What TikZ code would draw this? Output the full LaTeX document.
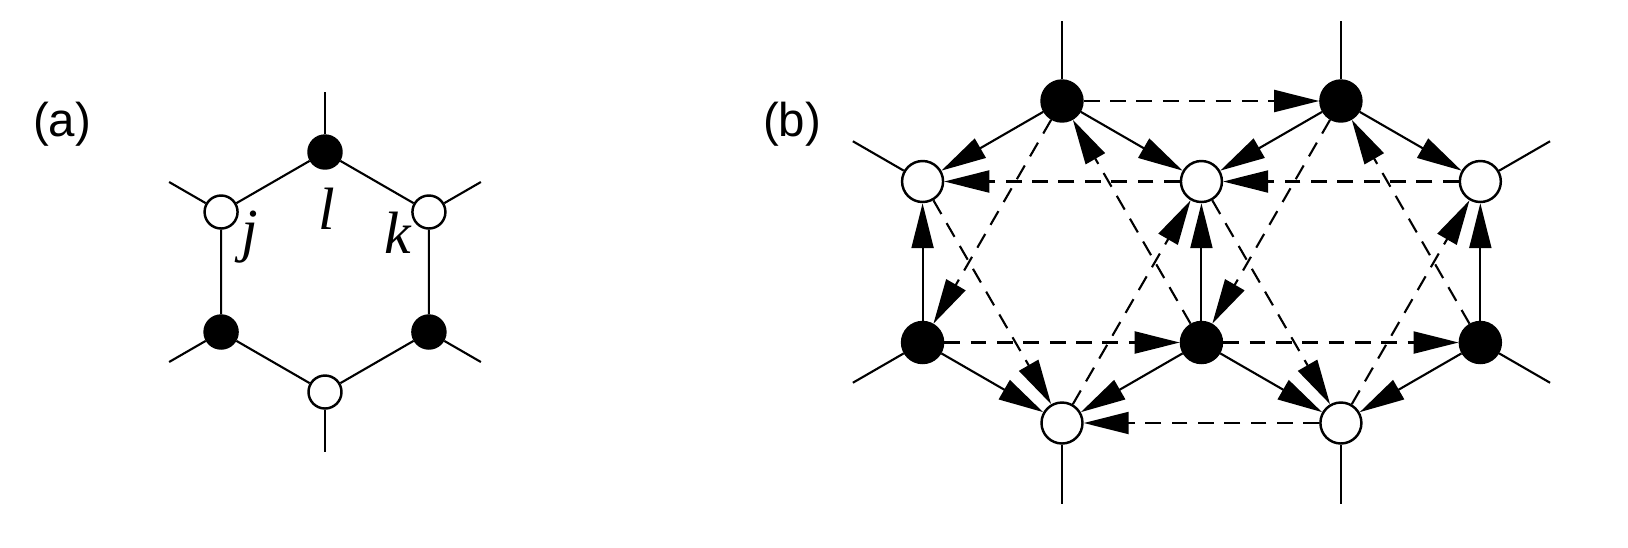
\documentclass[tikz,border=0pt]{standalone}
\usepackage{fontspec}
\setmainfont{Liberation Sans}
\newfontfamily\tmfont{Liberation Serif}
\usetikzlibrary{arrows.meta,calc}

\begin{document}
\begin{tikzpicture}[
  asite/.style={circle, draw, line width=0.7pt, fill=black, inner sep=0pt, minimum size=3.3mm},
  bsite/.style={asite, fill=white},
  abig/.style={asite, minimum size=4.1mm},
  bbig/.style={bsite, minimum size=4.1mm},
  bond/.style={line width=0.6pt},
  bondarr/.style={bond, -{Triangle[length=4.5mm, width=2.2mm]}},
  nnarr/.style={bondarr, dash pattern=on 4.5pt off 3pt},
  lbl/.style={font=\fontsize{17}{20}\selectfont\tmfont\itshape, inner sep=0pt, anchor=base},
  panel/.style={font=\fontsize{13.5}{16}\selectfont, inner sep=0pt}]
  \useasboundingbox (0,0) rectangle (16.28,5.47);

  % (a) one hexagon
  \node[panel] (taga) at (0.62,4.23) {(a)};
  \coordinate (ha) at (3.25,2.75);
  \node[asite] (a1) at ($(ha)+(90:1.2)$) {};
  \node[bsite] (a2) at ($(ha)+(150:1.2)$) {};
  \node[asite] (a3) at ($(ha)+(210:1.2)$) {};
  \node[bsite] (a4) at ($(ha)+(270:1.2)$) {};
  \node[asite] (a5) at ($(ha)+(330:1.2)$) {};
  \node[bsite] (a6) at ($(ha)+(30:1.2)$) {};
  \coordinate (ea1) at ($(a1)+(90:0.6)$);
  \coordinate (ea2) at ($(a2)+(150:0.6)$);
  \coordinate (ea3) at ($(a3)+(210:0.6)$);
  \coordinate (ea4) at ($(a4)+(270:0.6)$);
  \coordinate (ea5) at ($(a5)+(330:0.6)$);
  \coordinate (ea6) at ($(a6)+(30:0.6)$);
  \draw[bond] (a1) -- (a2) -- (a3) -- (a4) -- (a5) -- (a6) -- (a1);
  \draw[bond] (a1) -- (ea1);
  \draw[bond] (a2) -- (ea2);
  \draw[bond] (a3) -- (ea3);
  \draw[bond] (a4) -- (ea4);
  \draw[bond] (a5) -- (ea5);
  \draw[bond] (a6) -- (ea6);
  \node[lbl] (lj) at (2.50,2.97) {j};
  \node[lbl] (ll) at (3.27,3.18) {l};
  \node[lbl] (lk) at (3.98,2.94) {k};

  % (b) two hexagons with bond and next-neighbour arrows
  \node[panel] (tagb) at (7.92,4.23) {(b)};
  \coordinate (hl) at (10.62,2.85);
  \coordinate (hr) at (13.409,2.85);
  \node[abig] (t1) at ($(hl)+(90:1.61)$) {};
  \node[abig] (t2) at ($(hr)+(90:1.61)$) {};
  \node[bbig] (u1) at ($(hl)+(150:1.61)$) {};
  \node[bbig] (u2) at ($(hl)+(30:1.61)$) {};
  \node[bbig] (u3) at ($(hr)+(30:1.61)$) {};
  \node[abig] (d1) at ($(hl)+(210:1.61)$) {};
  \node[abig] (d2) at ($(hl)+(330:1.61)$) {};
  \node[abig] (d3) at ($(hr)+(330:1.61)$) {};
  \node[bbig] (b1) at ($(hl)+(270:1.61)$) {};
  \node[bbig] (b2) at ($(hr)+(270:1.61)$) {};
  \coordinate (et1) at ($(t1)+(90:0.805)$);
  \coordinate (et2) at ($(t2)+(90:0.805)$);
  \coordinate (eu1) at ($(u1)+(150:0.805)$);
  \coordinate (eu3) at ($(u3)+(30:0.805)$);
  \coordinate (ed1) at ($(d1)+(210:0.805)$);
  \coordinate (ed3) at ($(d3)+(330:0.805)$);
  \coordinate (eb1) at ($(b1)+(270:0.805)$);
  \coordinate (eb2) at ($(b2)+(270:0.805)$);
  \draw[bond] (t1) -- (et1);
  \draw[bond] (t2) -- (et2);
  \draw[bond] (u1) -- (eu1);
  \draw[bond] (u3) -- (eu3);
  \draw[bond] (d1) -- (ed1);
  \draw[bond] (d3) -- (ed3);
  \draw[bond] (b1) -- (eb1);
  \draw[bond] (b2) -- (eb2);
  % nearest neighbours
  \draw[bondarr] (t1) -- (u1);
  \draw[bondarr] (t1) -- (u2);
  \draw[bondarr] (d1) -- (u1);
  \draw[bondarr] (d1) -- (b1);
  \draw[bondarr] (d2) -- (b1);
  \draw[bondarr] (d2) -- (u2);
  \draw[bondarr] (t2) -- (u2);
  \draw[bondarr] (t2) -- (u3);
  \draw[bondarr] (d3) -- (u3);
  \draw[bondarr] (d2) -- (b2);
  \draw[bondarr] (d3) -- (b2);
  % next-nearest neighbours
  \draw[nnarr] (t1) -- (t2);
  \draw[nnarr] (u2) -- (u1);
  \draw[nnarr] (u3) -- (u2);
  \draw[nnarr] (d1) -- (d2);
  \draw[nnarr] (d2) -- (d3);
  \draw[nnarr] (b2) -- (b1);
  \draw[nnarr] (t1) -- (d1);
  \draw[nnarr] (d2) -- (t1);
  \draw[nnarr] (u1) -- (b1);
  \draw[nnarr] (b1) -- (u2);
  \draw[nnarr] (t2) -- (d2);
  \draw[nnarr] (d3) -- (t2);
  \draw[nnarr] (u2) -- (b2);
  \draw[nnarr] (b2) -- (u3);
\end{tikzpicture}
\end{document}
